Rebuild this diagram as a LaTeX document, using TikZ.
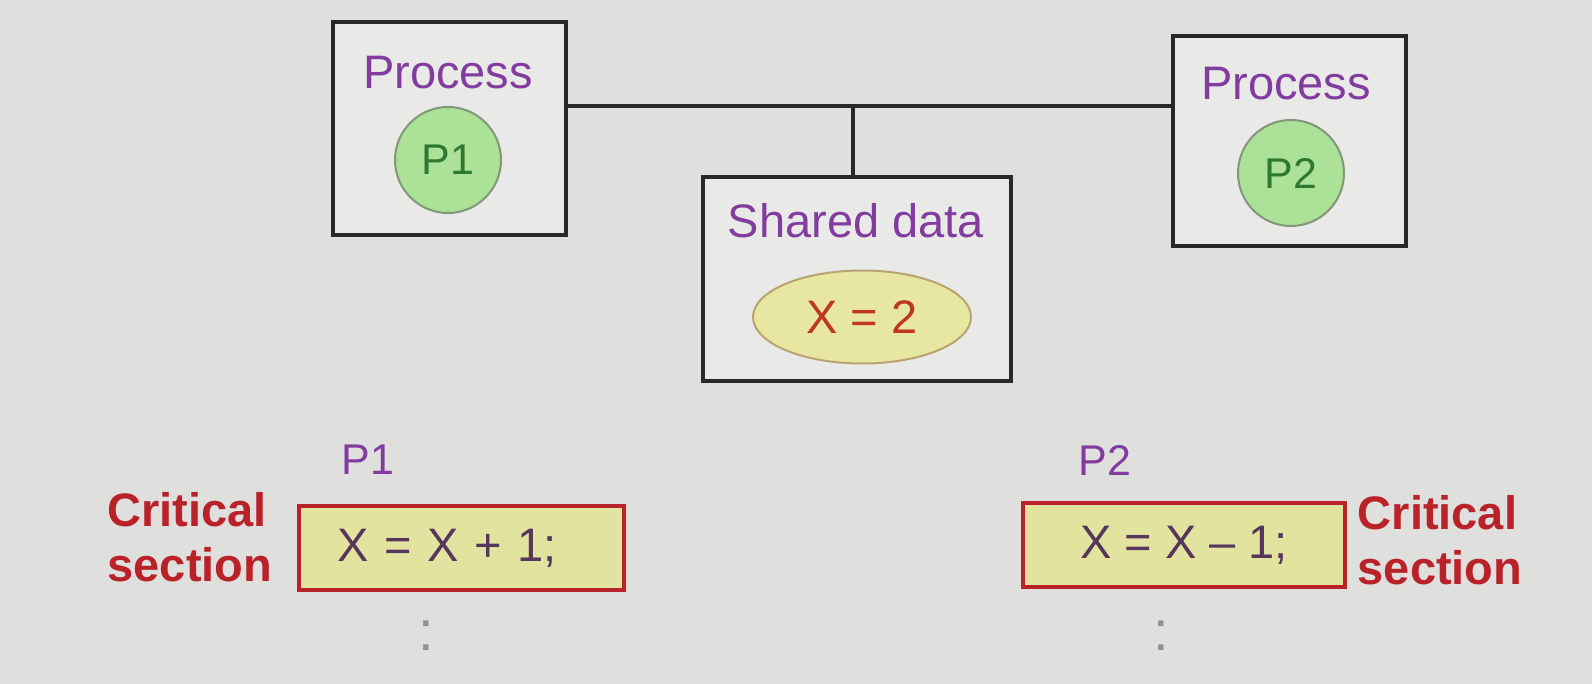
\documentclass[tikz,border=0pt]{standalone}
\usepackage{fontspec}
\setmainfont{Liberation Sans}
\usetikzlibrary{positioning,shapes.geometric}
\definecolor{slideGray}{RGB}{223,223,221}
\definecolor{boxInk}{RGB}{40,40,40}
\definecolor{procPurple}{RGB}{130,60,160}
\definecolor{leafGreen}{RGB}{172,226,152}
\definecolor{leafRim}{RGB}{130,150,122}
\definecolor{leafInk}{RGB}{46,120,50}
\definecolor{dataYellow}{RGB}{231,231,162}
\definecolor{dataRim}{RGB}{184,164,114}
\definecolor{dataRed}{RGB}{192,54,30}
\definecolor{critRed}{RGB}{186,34,42}
\definecolor{critFill}{RGB}{227,227,160}
\definecolor{codeInk}{RGB}{86,54,90}
\definecolor{dotInk}{RGB}{150,140,150}
\newcommand{\slidefont}{\fontsize{23.5pt}{27.5pt}\selectfont}
\newcommand{\smallslidefont}{\fontsize{21.5pt}{25pt}\selectfont}

\begin{document}
\begin{tikzpicture}[x=0.5pt,y=-0.5pt,
    procbox/.style={draw=boxInk,line width=2pt,fill=slideGray!70!white,inner sep=0pt},
    title/.style={font=\slidefont,text=procPurple,inner sep=1pt},
    pcircle/.style={circle,draw=leafRim,line width=1pt,fill=leafGreen,text=leafInk,
      minimum size=53pt,inner sep=0pt,font=\smallslidefont},
    databubble/.style={ellipse,draw=dataRim,line width=1pt,fill=dataYellow,text=dataRed,
      minimum width=109pt,minimum height=46.5pt,inner sep=0pt,font=\slidefont},
    busline/.style={draw=boxInk,line width=2.2pt},
    critbox/.style={draw=critRed,line width=2.4pt,fill=critFill,text=codeInk,
      minimum height=42pt,inner sep=0pt,font=\slidefont},
    crittag/.style={font=\slidefont\bfseries,text=critRed,align=left,inner sep=0pt},
    pname/.style={font=\smallslidefont,text=procPurple,inner sep=1pt},
    dotmark/.style={font=\fontsize{28pt}{30pt}\selectfont,text=dotInk,inner sep=0pt}
  ]
    \fill[slideGray] (0,0) rectangle (1592,684);

    \node[procbox,minimum width=116.5pt,minimum height=106.5pt] (p1box) at (449.5,128.5) {};
    \node[title] (p1title) at (448,73) {Process};
    \node[pcircle] (p1) at (448,160) {P1};

    \node[procbox,minimum width=116.5pt,minimum height=105pt] (p2box) at (1289.5,141) {};
    \node[title] (p2title) at (1286,84) {Process};
    \node[pcircle] (p2) at (1291,173) {P2};

    \node[procbox,minimum width=154pt,minimum height=102pt] (shbox) at (857,279) {};
    \node[title] (shtitle) at (856,221) {Shared data};
    \node[databubble] (xval) at (862,317) {X = 2};

    \coordinate (bus) at (853,106);
    \draw[busline] (p1box.east |- bus) -- (p2box.west |- bus);
    \draw[busline] (bus) -- (bus |- shbox.north);

    \node[critbox,minimum width=162.5pt,inner xsep=19pt,text width=124.5pt,align=left]
      (crit1) at (461.5,548) {X = X + 1;};
    \node[pname] (p1name) at (368,460) {P1};
    \node[crittag,left=12pt of crit1,yshift=5.5pt] (tag1) {Critical\\section};
    \node[dotmark] (dots1) at (426,636) {:};

    \node[critbox,minimum width=161pt] (crit2) at (1184,545) {X = X -- 1;};
    \node[pname] (p2name) at (1105,460) {P2};
    \node[crittag,right=5pt of crit2,yshift=2.5pt] (tag2) {Critical\\section};
    \node[dotmark] (dots2) at (1161,636) {:};
  \end{tikzpicture}
\end{document}
